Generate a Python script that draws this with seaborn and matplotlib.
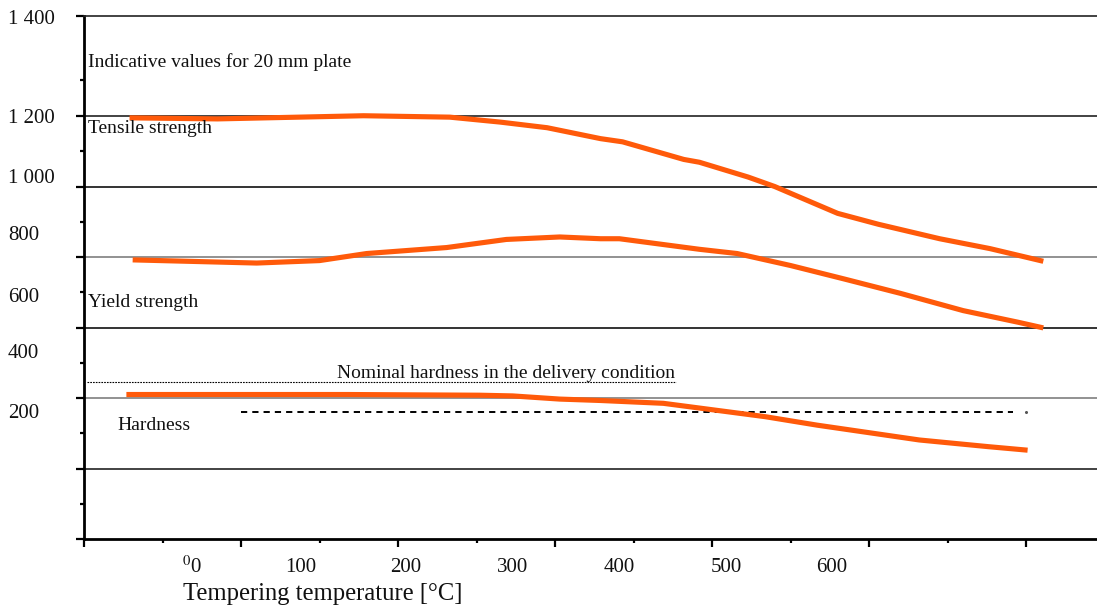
import numpy as np
import pandas as pd
import matplotlib
matplotlib.use('Agg')
import matplotlib.pyplot as plt
import matplotlib.transforms as mtransforms
from matplotlib.ticker import MultipleLocator, FixedLocator, NullFormatter
import seaborn as sns

# -------------------------------------------------------
# Data
# -------------------------------------------------------
tensile_temp = [29, 85, 178, 233, 265, 295, 329, 343, 382, 392, 423, 440, 480, 506, 545, 577, 611]
tensile_val = [1195, 1192, 1201, 1197, 1183, 1167, 1136, 1127, 1077, 1069, 1027, 1000, 924, 893, 852, 824, 788]

yield_temp = [31, 110, 150, 180, 231, 269, 303, 329, 341, 392, 416, 450, 484, 520, 560, 595, 611]
yield_val = [792, 783, 790, 810, 827, 850, 857, 852, 852, 822, 810, 776, 738, 697, 648, 615, 599]

hard_temp = [27, 168, 252, 273, 303, 329, 369, 434, 467, 532, 576, 601]
hard_val = [410, 410, 408, 406, 397, 393, 385, 347, 323, 281, 262, 252]

nominal_range = [2, 377]      # dotted line, nominal hardness
nominal_level = 445
lower_range = [100, 592]      # dashed line
lower_level = 360

grid_levels = [200, 400, 600, 800, 1000, 1200]
grid_colors = ['#222222', '#7f7f7f', '#111111', '#7f7f7f', '#111111', '#222222']

y_tick_labels = ["1 400", "1 200", "1 000", "800", "600", "400", "200"]
y_label_pos = [1475, 1194, 1024, 862, 686, 525, 357]

x_tick_labels = ["$^{0}$0", "100", "200", "300", "400", "500", "600"]
x_label_pos = [69, 138, 205, 273, 341, 409, 476]

ORANGE = '#ff5a0a'

sns.set_theme(style='white')
plt.rcParams['font.family'] = ['Liberation Serif', 'DejaVu Serif']
plt.rcParams['mathtext.fontset'] = 'stix'

fig = plt.figure(figsize=(10.97, 6.10), dpi=100)
ax = fig.add_axes([84 / 1097, 71 / 610, 1013 / 1097, 523 / 610])

ax.set_xlim(0, 645.2)
ax.set_ylim(0, 1484)

# horizontal grid lines
for lvl, col in zip(grid_levels, grid_colors):
    ax.axhline(lvl, color=col, lw=1.2, zorder=1)

# curves
curves = pd.concat([
    pd.DataFrame({'temp': tensile_temp, 'val': tensile_val, 'series': 'Tensile strength'}),
    pd.DataFrame({'temp': yield_temp, 'val': yield_val, 'series': 'Yield strength'}),
    pd.DataFrame({'temp': hard_temp, 'val': hard_val, 'series': 'Hardness'}),
])
for name, grp in curves.groupby('series', sort=False):
    sns.lineplot(data=grp, x='temp', y='val', ax=ax, color=ORANGE, lw=3.7,
                 sort=False, estimator=None, legend=False, zorder=3,
                 solid_capstyle='butt', solid_joinstyle='round')

ax.plot(nominal_range, [nominal_level] * 2, color='black', lw=0.8,
        linestyle=(0, (1.5, 1.0)), zorder=2)
ax.plot(lower_range, [lower_level] * 2, color='black', lw=1.4,
        linestyle=(0, (3.2, 2.6)), zorder=2)
ax.plot([600], [lower_level], marker='o', ms=1.2, color='#555555', zorder=2)

# spines
ax.spines['right'].set_visible(False)
ax.spines['top'].set_color('#222222')
ax.spines['top'].set_linewidth(1.2)
for s in ['left', 'bottom']:
    ax.spines[s].set_color('black')
    ax.spines[s].set_linewidth(2.0)

# ticks (marks only, labels drawn as text)
ax.yaxis.set_major_locator(FixedLocator([0, 200, 400, 600, 800, 1000, 1200, 1484]))
ax.yaxis.set_minor_locator(FixedLocator([100, 300, 500, 700, 900, 1100, 1302]))
ax.xaxis.set_major_locator(MultipleLocator(100))
ax.xaxis.set_minor_locator(MultipleLocator(50))
ax.tick_params(axis='both', which='major', direction='out', length=6, width=1.6,
               color='black', labelleft=False, labelbottom=False,
               left=True, bottom=True)
ax.tick_params(axis='both', which='minor', direction='out', length=3, width=1.6,
               color='black', left=True, bottom=True)
ax.xaxis.set_minor_formatter(NullFormatter())
ax.yaxis.set_minor_formatter(NullFormatter())
ax.set_xlabel('')
ax.set_ylabel('')

# tick labels
ytrans = mtransforms.blended_transform_factory(fig.transFigure, ax.transData)
for lab, pos in zip(y_tick_labels, y_label_pos):
    ax.text(8 / 1097, pos, lab, transform=ytrans, ha='left', va='center',
            fontsize=15, color='#111111')

xtrans = mtransforms.blended_transform_factory(ax.transData, fig.transFigure)
for lab, pos in zip(x_tick_labels, x_label_pos):
    ax.text(pos, (610 - 567) / 610, lab, transform=xtrans, ha='center',
            va='center', fontsize=15, color='#111111')

fig.text(183 / 1097, (610 - 594) / 610, 'Tempering temperature [°C]',
         ha='left', va='center', fontsize=17.7, color='#111111')

# annotations
ax.text(2.5, 1353, 'Indicative values for 20 mm plate', ha='left', va='center',
        fontsize=14, color='#111111')
ax.text(2.5, 1166, 'Tensile strength', ha='left', va='center',
        fontsize=14, color='#111111')
ax.text(2.5, 670, 'Yield strength', ha='left', va='center',
        fontsize=14, color='#111111')
ax.text(21, 323, 'Hardness', ha='left', va='center',
        fontsize=14, color='#111111')
ax.text(161, 471, 'Nominal hardness in the delivery condition', ha='left',
        va='center', fontsize=14, color='#111111')

fig.savefig('out.png', dpi=100)
plt.close(fig)
